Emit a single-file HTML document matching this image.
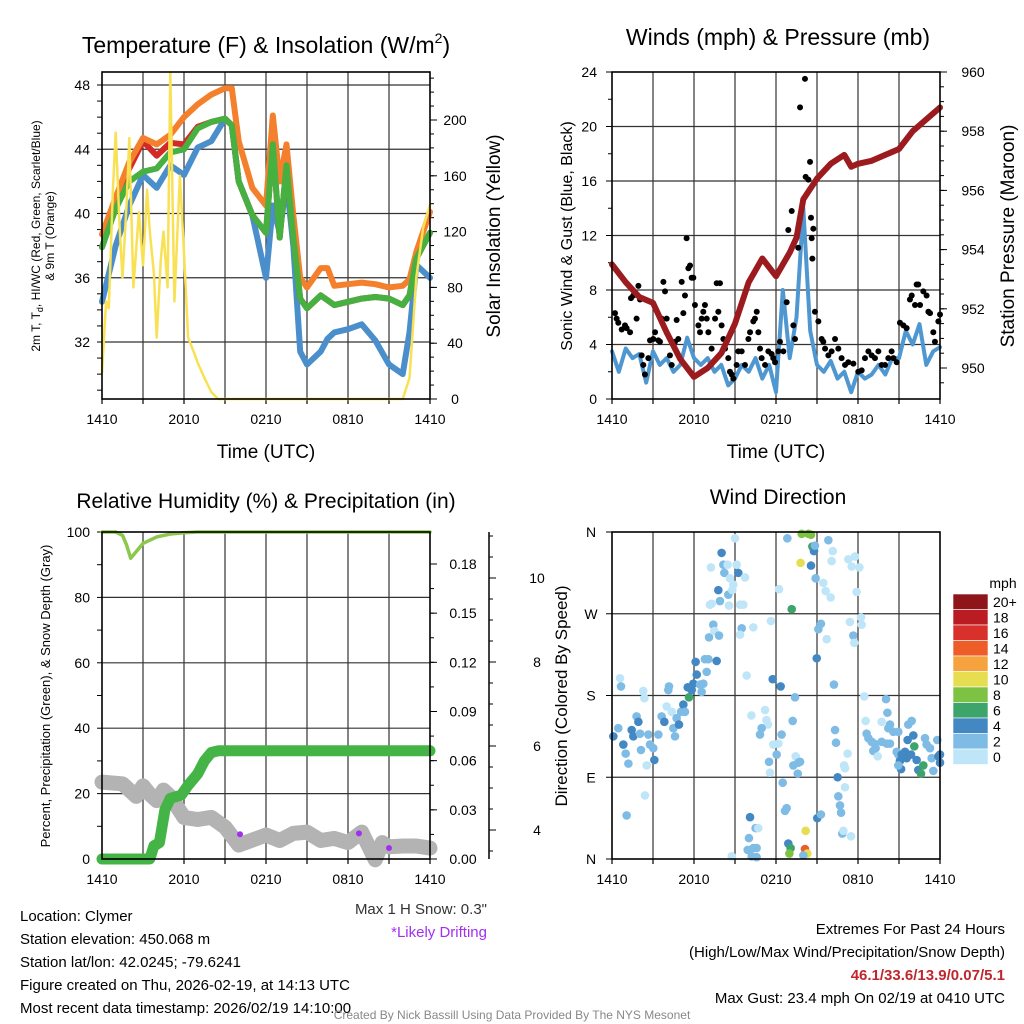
<!DOCTYPE html>
<html><head><meta charset="utf-8"><style>
html,body{margin:0;padding:0;background:#fff;}
svg{display:block;font-family:"Liberation Sans",Arial,sans-serif;}
</style></head><body>
<svg id="c" width="1024" height="1024" viewBox="0 0 1024 1024"></svg>
<script>
// ---------- DATA ----------
const xTickLabels=["1410","2010","0210","0810","1410"];
// Panel 1
const tHours=[0,1,2,3,4,5,6,7,8,9,9.5,10,11,12,12.5,13,13.5,14,14.5,15,16,16.5,17,18,19,20,21,22,22.5,23,24];
const t9m=[38.7,41,43.2,44.7,44.3,44.9,46,46.8,47.4,47.8,47.8,44.5,41.6,40.5,46.1,42,44.3,39.9,36,35.4,36.6,36.6,35.5,35.6,35.7,35.6,35.4,35.5,35.9,37.6,40.1];
const tWC=[37.9,40.3,42,42.6,42.8,43.8,44,45.3,45.7,45.9,45.5,42,39.9,38.8,44.3,38.5,43,38.5,34.7,34.1,34.9,34.6,34.3,34.5,34.7,34.8,34.7,34.3,34.9,37.2,38.8];
const t2m=[37.9,40.5,42.8,44.5,43.6,44.4,44.3,45.4,45.7,45.9,45.5,42,39.9,38.8,44.3,38.5,43,38.5,34.7,34.1,34.9,34.6,34.3,34.5,34.7,34.8,34.7,34.3,34.9,37.2,38.8];
const tDew=[34.5,38,40.5,42.4,41.6,43,42.4,44.1,44.5,45.9,45.5,42,39.9,36,40.5,38.8,42,38,31.4,30.6,31.4,32.2,32.6,32.8,33.1,32.1,30.6,30,32.6,36.8,36];
const solHours=[0,0.3,0.5,0.8,1,1.3,1.5,1.8,2,2.3,2.7,3,3.3,3.5,3.8,4,4.3,4.5,4.8,5,5.3,5.7,6,6.3,6.7,7,7.5,8,8.5,22,22.5,23,23.5,24];
const solar=[19,70,65,150,191,120,87,140,187,80,134,96,150,120,90,44,100,120,80,234,70,160,105,44,34,26,15,5,0,0,15,87,123,139];
// Panel 2
const presHours=[0,1,2,3,4,5,6,7,8,9,10,11,12,13,13.5,14,15,16,17,17.5,18,19,20,21,22,23,24];
const pressure=[953.5,952.9,952.4,952.2,951.2,950.3,949.7,950,950.5,951.5,952.9,953.7,953.1,953.9,954.4,955.7,956.4,956.9,957.2,956.8,956.9,957,957.2,957.4,958,958.4,958.8];
const windHours=[0,0.5,1,1.5,2,2.5,3,3.5,4,4.5,5,5.5,6,6.5,7,7.5,8,8.5,9,9.5,10,10.5,11,11.5,12,12.5,13,13.5,14,14.5,15,15.5,16,16.5,17,17.5,18,18.5,19,19.5,20,20.5,21,21.5,22,22.5,23,23.5,24];
const wind=[3.5,2,3.7,3,3.3,1.2,3.5,2.5,3,2,2.5,4.5,3,2.5,3,2,2.5,1,1.5,2.5,2,3,1.5,2.5,0.5,8,3,6,14,5,2.5,2,2.8,1.5,2,0.5,2,1.5,1.8,2.5,1.8,3,3,5,4,5.5,2.5,3.5,3.8];
const gustHours=[.22,.34,.46,.71,.95,1.07,1.32,1.39,1.56,1.8,1.93,2.05,2.17,2.29,2.41,2.66,2.78,3.02,3.15,3.39,3.51,3.63,3.76,3.88,4,4.24,4.37,4.61,4.73,4.85,5.1,5.22,5.34,5.46,5.59,5.71,5.83,5.95,6.07,6.32,6.44,6.56,6.68,6.8,6.93,7.05,7.29,7.54,7.66,7.9,7.78,8.02,8.15,8.27,8.51,8.63,8.76,8.88,9.12,9.24,9.49,9.73,9.98,10.1,10.34,10.46,10.59,10.71,10.83,10.95,11.2,11.44,11.68,11.8,11.93,12.17,12.29,12.54,12.78,12.9,13.15,13.27,13.39,13.63,13.76,14.12,14.17,14.37,14.49,14.56,14.61,14.66,14.73,14.85,15.1,15.34,15.46,15.59,15.83,16.07,16.32,16.56,16.8,17.05,17.29,17.66,18.02,18.27,18.51,18.76,19,19.24,19.49,19.73,19.98,20.22,20.46,20.59,20.83,21.07,21.32,21.56,21.8,21.93,22.17,22.29,22.41,22.54,22.78,23.02,23.15,23.27,23.51,23.63,23.88,24];
const gust=[6.3,5.9,5.6,5.1,5.4,5.2,4.9,7.4,7.6,5.9,8.3,7.3,3.2,2.5,1.8,3,4.3,4.4,4.9,4.3,4.2,5.9,8.6,7.9,5.9,3.2,2.5,4.2,5.8,4.4,8.6,6.3,7.6,11.8,9.6,9.8,8.9,8.9,6.9,5.4,4.9,5.9,6.4,6.9,5.9,4.9,3.7,5.9,8.5,8.5,6.4,5.4,4.4,3.7,3,2,1.8,1.5,2.5,3.5,3.5,2.5,4.4,4.9,5.7,5.9,6.4,4.9,3.7,3,2.5,3.5,3.3,3,2.7,3.5,4.2,3.5,7.1,12.4,13.8,5.4,4.4,11.1,21.4,23.5,16.3,16.1,17.4,13.3,11.8,10.3,12.5,6.4,5.7,4.4,4.2,3.7,3.2,3.5,4.4,3.7,3,2.5,2.7,2.6,2,2.1,3,3.5,3.2,3,3.5,2.5,2.5,3,3.5,3,2.7,5.6,5.4,5.2,7.3,7.6,6.9,8.4,8.4,6.9,7.9,7.6,6.4,6.3,4.9,4.2,5.7,6.2];
// Panel 3
const rhHours=[0,0.5,1,1.5,1.8,2.1,2.5,3,4,5,6,7,24];
const rh=[100,100,100,99,96,92,94,96.5,98.5,99.4,99.8,100,100];
const precipHours=[0,3.5,3.8,4.2,4.6,5,5.8,6.3,7,7.5,8,8.5,24];
const precip=[0,0,0.008,0.01,0.03,0.037,0.039,0.045,0.052,0.06,0.065,0.066,0.066];
const snowHours=[0,1.5,2.5,3,3.5,4,4.5,5,6,7,8,9,10,11,12,13,14,15,16,17,18,19,20,20.5,21,22,23,24];
const snow=[5.14,5.1,4.8,5.05,4.85,4.7,4.95,4.8,4.3,4.25,4.3,4.07,3.64,3.76,3.88,3.75,3.92,3.95,3.75,3.8,3.7,3.95,3.29,3.7,3.6,3.62,3.62,3.57];
const driftHours=[10.1,18.8,21];
const driftSnow=[3.9,3.92,3.57];
const precipTicks=["0.00","0.03","0.06","0.09","0.12","0.15","0.18"];
const snowTicks=["4","6","8","10"];
// Panel 4
const dirHours=[0.1,.59,.66,.46,.83,1,1.2,1.44,1.56,1.8,1.93,2.05,2.12,2.29,2.37,2.54,2.66,2.78,3.02,3.1,2.41,1.07,3.39,3.63,3.83,4,4.12,4.17,4.37,4.49,4.61,4.73,4.9,5.05,5.22,5.34,5.54,5.63,5.83,5.95,6.2,6.12,6.44,6.56,6.68,6.93,6.8,7.05,7.66,7.1,7.41,7.49,7.83,7.17,7.29,7.9,7.78,8.51,8.56,8.88,8.8,8.02,8.15,8.22,8.46,8.63,9.12,9.24,9.73,7.24,9,9.37,9.61,9.49,9.37,10.34,9.85,10.2,11.2,11.3,11.4,10.95,10.83,11.8,12.05,11.49,11.56,12.17,12.41,11.76,12.34,11.63,12.22,12.83,13.22,13.39,13.44,13.63,13.76,13.27,13.59,12.49,12.66,12.78,10.1,10.51,10.7,10.02,10.34,10.58,9.93,10.22,10.58,8.76,12.9,13.07,12.98,14.12,14.17,14.29,14,15.02,15.29,16.56,16.68,16.76,16.85,16.93,17.49,17.05,16.51,17.05,17.24,16.98,16.32,16.39,16.24,14.98,15.1,15.29,15.71,17.66,17.73,17.41,18.27,18.22,13.88,14.37,14.56,14.66,14.78,14.85,13.8,14.56,14.9,15.46,15.63,16,16.15,16.07,15.83,17.29,17.78,17.54,18.1,17.9,13.15,18.46,20.05,20.15,18.56,19.73,20.34,20.22,20.59,20.95,21.68,21.93,18.63,18.76,19,19.2,19.29,19.12,19.44,19.73,20.1,20.34,20.83,20.95,21.07,21.2,21.44,21.56,21.63,22.05,21.88,22.12,22.29,22.41,22.61,22.78,22.9,23.02,23.27,23.39,23.51,23.8,23.88,24,24,21.15,20.95];
const dirDeg=[135,199,190,144,126,116,105,142,135,157,151,138,120,185,177,103,137,126,122,109,70,48,137,157,151,168,186,190,162,144,135,155,148,162,170,162,189,178,186,193,203,217,192,184,193,206,220,220,218,244,258,251,246,280,281,284,296,291,279,302,296,337,324,315,324,309,324,315,310,321,353,280,280,254,247,255,202,158,164,153,148,144,137,126,115,107,95,127,137,198,190,262,297,353,152,178,113,106,107,103,94,84,53,56,46,34,34,23,12,12,10,3,2,3,17,12,6,11,31,6,4,45,49,69,59,51,28,31,25,79,90,100,116,103,142,128,192,221,253,259,242,246,238,261,258,266,358,358,357,344,339,345,326,323,309,304,295,288,339,328,351,330,333,322,321,294,275,179,176,161,152,151,148,144,140,140,148,152,138,133,129,127,122,119,113,129,127,127,118,115,108,115,118,111,131,136,115,124,109,98,94,103,133,126,122,111,97,131,113,115,106,99,103];
const dirSpeed=[4,0,2,2,4,2,2,4,4,2,4,2,2,0,0,0,2,2,2,4,0,2,2,2,4,0,2,2,0,2,2,2,4,2,4,2,4,6,4,4,4,4,2,2,2,2,2,2,4,2,2,0,2,0,0,2,4,2,0,0,0,4,2,2,0,0,0,4,0,0,0,0,0,2,0,0,0,0,0,0,0,2,2,0,2,2,0,0,2,4,4,0,0,2,2,2,0,2,2,2,2,2,2,2,4,2,0,2,2,2,2,2,2,0,4,6,8,14,10,10,2,4,2,2,2,2,2,0,0,0,4,0,0,0,2,2,2,4,2,2,0,2,0,0,0,0,8,8,8,6,4,2,10,4,2,0,0,0,0,0,2,0,0,0,0,0,6,0,2,2,0,0,2,2,2,2,2,2,2,2,2,2,2,2,0,2,2,2,2,2,4,4,4,4,4,4,4,6,4,4,6,6,2,2,2,2,2,2,4,4,4,4,2];
const cbLabels=["20+","18","16","14","12","10","8","6","4","2","0"];
const cbColors=["#8e1519","#b91c22","#d8302a","#ee5c28","#f6a33f","#e6dd50","#7dc242","#3da56b","#4388c3","#7ebbe5","#bfe5f8"];

// ---------- DRAW ----------
const NS="http://www.w3.org/2000/svg", svg=document.getElementById('c');
function el(tag,attrs,parent,text){const e=document.createElementNS(NS,tag);for(const k in attrs)e.setAttribute(k,attrs[k]);if(text!==undefined)e.textContent=text;(parent||svg).appendChild(e);return e;}
function txt(x,y,s,size,anchor,extra,name){const t=el('text',Object.assign({x:x,y:y,'font-size':size,'text-anchor':anchor||'middle',fill:'#000'},extra||{}),svg,s);

return t;}
function scale(d0,d1,r0,r1){return v=>r0+(v-d0)/(d1-d0)*(r1-r0);}
function poly(xs,ys,fx,fy,style,name){const pts=xs.map((h,i)=>fx(h).toFixed(1)+','+fy(ys[i]).toFixed(1)).join(' ');const p=el('polyline',Object.assign({points:pts,fill:'none','stroke-linejoin':'round','stroke-linecap':'round'},style));

return p;}
function frame(x0,y0,x1,y1,hLines,name){
  const g=el('g',{});
  for(let i=1;i<8;i++){const x=x0+(x1-x0)*i/8;el('line',{x1:x,x2:x,y1:y0,y2:y1,stroke:'#333','stroke-width':1.2},g);}
  hLines.forEach(y=>el('line',{x1:x0,x2:x1,y1:y,y2:y,stroke:'#333','stroke-width':1.2},g));
  for(let i=0;i<=8;i++){const x=x0+(x1-x0)*i/8;el('line',{x1:x,x2:x,y1:y1,y2:y1+5,stroke:'#000','stroke-width':1.2},g);}
  xTickLabels.forEach((s,i)=>txt(x0+(x1-x0)*i/4,y1+25,s,14,'middle',{},'x-tick-label'));
  return g;}
function box(x0,y0,x1,y1){const r=el('rect',{x:x0,y:y0,width:x1-x0,height:y1-y0,fill:'none',stroke:'#000','stroke-width':1.6});}

// Panel 1
{const X=scale(0,24,102,430),Y=scale(48,32,85,342),S=scale(0,200,399,120);
frame(102,72,430,399,[48,44,40,36,32].map(Y),'temp-grid');
[48,44,40,36,32].forEach(v=>{txt(90,Y(v)+5,String(v),14,'end',{},'temp-tick-label');});
for(let v=29;v<=48;v++)el('line',{x1:97,x2:102,y1:Y(v),y2:Y(v),stroke:'#000'});
[0,40,80,120,160,200].forEach(v=>{txt(455,S(v)+5,String(v),14,'middle',{},'solar-tick-label');el('line',{x1:430,x2:437,y1:S(v),y2:S(v),stroke:'#000'});});
for(let v=0;v<=230;v+=10)el('line',{x1:430,x2:434,y1:S(v),y2:S(v),stroke:'#000'});
poly(tHours,tDew,X,Y,{stroke:'#4a8fcb','stroke-width':6},'dewpoint-line');
poly(tHours,t2m,X,Y,{stroke:'#d42a26','stroke-width':6},'temp-2m-line');
poly(tHours,t9m,X,Y,{stroke:'#f47f2c','stroke-width':6},'temp-9m-line');
poly(tHours,tWC,X,Y,{stroke:'#46b041','stroke-width':6},'windchill-line');
poly(solHours,solar,X,S,{stroke:'#f9e154','stroke-width':2.5},'solar-line');
box(102,72,430,399);
const tt=el('text',{x:266,y:53,'font-size':23,'text-anchor':'middle'});


tt.innerHTML='Temperature (F) &amp; Insolation (W/m<tspan font-size="14" dy="-10">2</tspan><tspan dy="10">)</tspan>';
txt(266,458,'Time (UTC)',19,'middle',{},'x-axis-title');
txt(0,0,'Solar Insolation (Yellow)',19,'middle',{transform:'translate(500,236) rotate(-90)'},'solar-axis-title');
const l1=el('text',{transform:'translate(40,236) rotate(-90)','font-size':12,'text-anchor':'middle'});


l1.innerHTML='2m T, T<tspan font-size="9" dy="3">d</tspan><tspan dy="-3">, HI/WC (Red, Green, Scarlet/Blue)</tspan>';
txt(0,0,'& 9m T (Orange)',12,'middle',{transform:'translate(54,236) rotate(-90)'},'temp-axis-title-2');}

// Panel 2
{const X=scale(0,24,612,940),W=scale(0,24,399,72),P=scale(950,960,368,72);
frame(612,72,940,399,[4,8,12,16,20].map(W),'wind-grid');
[0,4,8,12,16,20,24].forEach(v=>{txt(597,W(v)+5,String(v),14,'end',{},'wind-tick-label');el('line',{x1:606,x2:612,y1:W(v),y2:W(v),stroke:'#000'});});
for(let v=2;v<24;v+=4)el('line',{x1:608,x2:612,y1:W(v),y2:W(v),stroke:'#000'});
[950,952,954,956,958,960].forEach(v=>{txt(973,P(v)+5,String(v),14,'middle',{},'pressure-tick-label');el('line',{x1:940,x2:947,y1:P(v),y2:P(v),stroke:'#000'});});
for(let v=949.5;v<=960;v+=0.5)el('line',{x1:940,x2:944,y1:P(v),y2:P(v),stroke:'#000'});
poly(windHours,wind,X,W,{stroke:'#4f97d1','stroke-width':4},'sonic-wind-line');
gustHours.forEach((h,i)=>{const c=el('circle',{cx:X(h),cy:W(gust[i]),r:3,fill:'#000'});

});
poly(presHours,pressure,X,P,{stroke:'#9b1b1e','stroke-width':6},'pressure-line');
box(612,72,940,399);
txt(778,45,'Winds (mph) & Pressure (mb)',23,'middle',{},'wind-title');
txt(776,458,'Time (UTC)',19,'middle',{},'x-axis-title');
txt(0,0,'Sonic Wind & Gust (Blue, Black)',16,'middle',{transform:'translate(572,236) rotate(-90)'},'wind-axis-title');
txt(0,0,'Station Pressure (Maroon)',19,'middle',{transform:'translate(1014,236) rotate(-90)'},'pressure-axis-title');}

// Panel 3
{const X=scale(0,24,102,430),R=scale(0,100,859,532),Pr=scale(0,0.18,859,564),Sn=scale(4,10,830,578);
frame(102,532,430,859,[20,40,60,80].map(R),'rh-grid');
[0,20,40,60,80,100].forEach(v=>{txt(90,R(v)+5,String(v),14,'end',{},'rh-tick-label');});
for(let v=0;v<=100;v+=10)el('line',{x1:97,x2:102,y1:R(v),y2:R(v),stroke:'#000'});
precipTicks.forEach(s=>{const v=parseFloat(s);txt(463,Pr(v)+5,s,14,'middle',{},'precip-tick-label');el('line',{x1:430,x2:437,y1:Pr(v),y2:Pr(v),stroke:'#000'});});
for(let v=0;v<=0.195;v+=0.015)el('line',{x1:430,x2:434,y1:Pr(v),y2:Pr(v),stroke:'#000'});
el('line',{x1:489,x2:489,y1:532,y2:859,stroke:'#000','stroke-width':1.5});
snowTicks.forEach(s=>{const v=+s;txt(537,Sn(v)+5,s,14,'middle',{},'snow-tick-label');el('line',{x1:489,x2:496,y1:Sn(v),y2:Sn(v),stroke:'#000'});});
for(let v=3.5;v<=11;v+=0.5)el('line',{x1:489,x2:493,y1:Sn(v),y2:Sn(v),stroke:'#000'});
poly(snowHours,snow,X,Sn,{stroke:'#b3b3b3','stroke-width':15},'snow-depth-line');
poly(precipHours,precip,X,Pr,{stroke:'#44b446','stroke-width':11},'precip-line');
poly(rhHours,rh,X,R,{stroke:'#8cc84b','stroke-width':3.5},'rh-line');
driftHours.forEach((h,i)=>{const c=el('circle',{cx:X(h),cy:Sn(driftSnow[i]),r:3,fill:'#a22ff0'});

});
box(102,532,430,859);
txt(266,508,'Relative Humidity (%) & Precipitation (in)',21,'middle',{},'rh-title');
txt(0,0,'Percent, Precipitation (Green), & Snow Depth (Gray)',13,'middle',{transform:'translate(50,696) rotate(-90)'},'rh-axis-title');
txt(487,914,'Max 1 H Snow: 0.3"',15,'end',{fill:'#333'},'max-snow-note');
txt(487,937,'*Likely Drifting',15,'end',{fill:'#a22ff0'},'drifting-note');}

// Panel 4
{const X=scale(0,24,612,940),D=scale(0,360,859,532);
frame(612,532,940,859,[90,180,270].map(D),'dir-grid');
['N','E','S','W','N'].forEach((s,i)=>{txt(591,D(i*90)+5,s,14,'middle',{},'dir-tick-label');el('line',{x1:606,x2:612,y1:D(i*90),y2:D(i*90),stroke:'#000'});});
dirHours.forEach((h,i)=>{const idx=10-Math.min(10,Math.round(dirSpeed[i]/2));const c=el('circle',{cx:X(h),cy:D(dirDeg[i]),r:4.3,fill:cbColors[idx]});

});
box(612,532,940,859);
txt(778,504,'Wind Direction',21,'middle',{},'dir-title');
txt(0,0,'Direction (Colored By Speed)',17,'middle',{transform:'translate(567,696) rotate(-90)'},'dir-axis-title');
txt(1003,588,'mph',14,'middle',{},'colorbar-title');
cbLabels.forEach((s,i)=>{const r=el('rect',{x:953,y:594+i*15.5,width:35,height:15.5,fill:cbColors[i],stroke:'#fff','stroke-width':0.6});


txt(993,594+i*15.5+13,s,14,'start',{},'colorbar-label');});}

// Footer text
['Location: Clymer','Station elevation: 450.068 m','Station lat/lon: 42.0245; -79.6241','Figure created on Thu, 2026-02-19, at 14:13 UTC','Most recent data timestamp: 2026/02/19 14:10:00'].forEach((s,i)=>txt(20,921+i*23,s,15,'start',{},'station-info-line'));
txt(1005,934,'Extremes For Past 24 Hours',15,'end',{},'extremes-title');
txt(1005,957,'(High/Low/Max Wind/Precipitation/Snow Depth)',15,'end',{},'extremes-subtitle');
txt(1005,980,'46.1/33.6/13.9/0.07/5.1',15,'end',{fill:'#c0272d','font-weight':'bold'},'extremes-values');
txt(1005,1003,'Max Gust: 23.4 mph On 02/19 at 0410 UTC',15,'end',{},'max-gust');
txt(512,1019,'Created By Nick Bassill Using Data Provided By The NYS Mesonet',12,'middle',{fill:'#888'},'credits');
</script>
</body></html>
